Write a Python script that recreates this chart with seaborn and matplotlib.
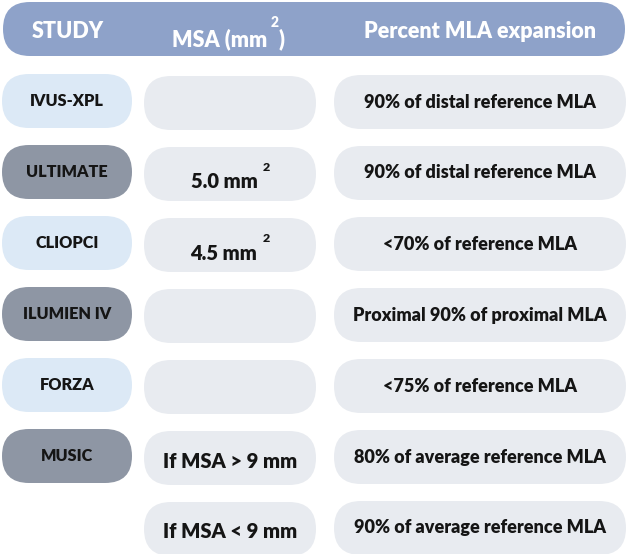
import matplotlib
matplotlib.use("Agg")
import matplotlib.pyplot as plt
import seaborn as sns
from matplotlib.patches import FancyBboxPatch

# ─────────────────────────────────────────────
# Table content
# ─────────────────────────────────────────────
header_labels = ["STUDY", "MSA (mm", "Percent MLA expansion"]
header_sups = ["", "2", ""]
studies = ["IVUS-XPL", "ULTIMATE", "CLIOPCI", "ILUMIEN IV", "FORZA", "MUSIC", ""]
study_tone = ["light", "dark", "light", "dark", "light", "dark", ""]
msa_text = ["", "5.0 mm", "4.5 mm", "", "", "If MSA > 9 mm", "If MSA < 9 mm"]
msa_sup = ["", "2", "2", "", "", "", ""]
mla_text = [
    "90% of distal reference MLA",
    "90% of distal reference MLA",
    "<70% of reference MLA",
    "Proximal 90% of proximal MLA",
    "<75% of reference MLA",
    "80% of average reference MLA",
    "90% of average reference MLA",
]

# ─────────────────────────────────────────────
# Layout / style
# ─────────────────────────────────────────────
W, H = 630, 554
COLS = [(2, 132), (144, 316), (334, 626)]   # left / right edges of each column
ROW_TOP, ROW_STEP, ROW_H = 74, 71, 54
HEADER = (3, 2, 625, 56)                    # x0, y0, x1, y1

HEADER_COLOR = "#8EA2C9"
TONES = {"light": "#DCE9F6", "dark": "#8E96A4"}
CELL_COLOR = "#E8EBF0"
FONT = "Lato"
WEIGHT = "heavy"

sns.set_theme(style="white")
plt.rcParams["font.family"] = [FONT, "DejaVu Sans"]

fig = plt.figure(figsize=(W / 100, H / 100), dpi=100)
ax = fig.add_axes([0, 0, 1, 1])
ax.set_xlim(0, W)
ax.set_ylim(H, 0)
ax.axis("off")


def pill(x0, y0, x1, y1, color):
    r = (y1 - y0) / 2
    ax.add_patch(FancyBboxPatch((x0, y0), x1 - x0, y1 - y0,
                                boxstyle=f"round,pad=0,rounding_size={r}",
                                fc=color, ec="none"))


def extent(t):
    fig.canvas.draw()
    return t.get_window_extent().transformed(ax.transData.inverted())


def label(x, y, text, sup="", size=12, color="#151515"):
    t = ax.text(x, y, text, ha="center", va="center", fontsize=size,
                fontweight=WEIGHT, color=color)
    if sup:
        bb = extent(t)
        ax.text(bb.x1 + 5, bb.y1 - 5, sup, ha="left", va="center",
                fontsize=size * 0.62, fontweight=WEIGHT, color=color)
    return t


# header bar
hx0, hy0, hx1, hy1 = HEADER
pill(hx0, hy0, hx1, hy1, HEADER_COLOR)
header_pos = [(68, 32), (220, 39), (480, 32)]
for (hx, hy), txt, sup in zip(header_pos, header_labels, header_sups):
    t = label(hx, hy, txt, size=15.5, color="white")
    if sup:
        bb = extent(t)
        ax.text(bb.x1 + 3, bb.y1 - 6, sup, ha="left", va="center",
                fontsize=10, fontweight=WEIGHT, color="white")
        ax.text(bb.x1 + 11, hy, ")", ha="left", va="center",
                fontsize=15.5, fontweight=WEIGHT, color="white")

# rows
for i, (study, tone, msa, sup, mla) in enumerate(
        zip(studies, study_tone, msa_text, msa_sup, mla_text)):
    y0 = ROW_TOP + i * ROW_STEP
    y1 = y0 + ROW_H
    yc = (y0 + y1) / 2
    if study:
        pill(COLS[0][0], y0, COLS[0][1], y1, TONES[tone])
        label(sum(COLS[0]) / 2, yc, study, size=11.7)
    pill(COLS[1][0], y0 + 2, COLS[1][1], y1 + 2, CELL_COLOR)
    if msa:
        label(sum(COLS[1]) / 2 - 6 if sup else sum(COLS[1]) / 2,
              yc + (10 if sup else 5), msa, sup=sup, size=14.5)
    pill(COLS[2][0], y0 + 1, COLS[2][1], y1 + 1, CELL_COLOR)
    label(sum(COLS[2]) / 2, yc + 1, mla, size=13)

fig.savefig("out.png", dpi=100)
